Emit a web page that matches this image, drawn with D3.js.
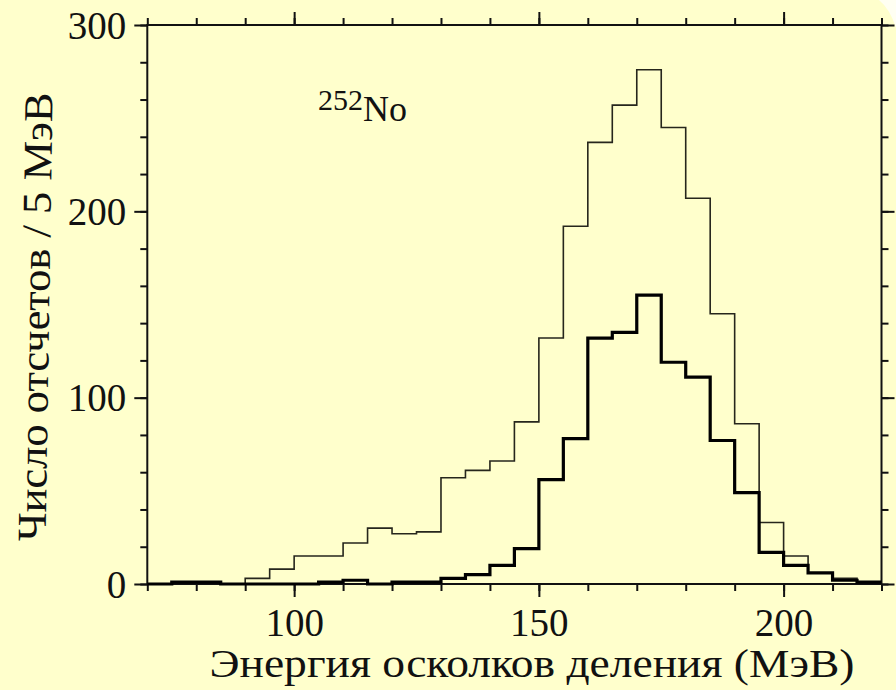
<!DOCTYPE html>
<html>
<head>
<meta charset="utf-8">
<script src="https://cdn.jsdelivr.net/npm/d3@7/dist/d3.min.js"></script>
<style>
  html, body { margin: 0; padding: 0; background: #ffffcc; }
  svg { display: block; }
  text { font-family: "Liberation Serif", "Times New Roman", serif; fill: #111; }
</style>
</head>
<body>
<svg id="chart" width="896" height="690"></svg>
<script>
// Lower edges of the 5 MeV energy bins (MeV)
const binEdges = [70, 75, 80, 85, 90, 95, 100, 105, 110, 115, 120, 125, 130, 135, 140,
                  145, 150, 155, 160, 165, 170, 175, 180, 185, 190, 195, 200, 205, 210, 215];
const binWidth = 5;

// All fission events (thin line)
const countsAll = [0, 1, 1, 0, 3, 8, 15, 15, 22, 30, 27, 28, 57, 61, 66,
                   87, 132, 192, 237, 257, 276, 245, 207, 145, 86, 33, 15, 6, 3, 1];

// Selected events (thick line)
const countsSelected = [0, 1, 1, 0, 0, 0, 0, 1, 2, 0, 1, 1, 3, 5, 10,
                        19, 56, 78, 132, 135, 155, 119, 111, 77, 49, 17, 10, 6, 2, 1];

const xMajorTicks = [100, 150, 200];
const xMinorTicks = [70, 80, 90, 100, 110, 120, 130, 140, 150, 160, 170, 180, 190, 200, 210, 220];
const yMajorTicks = [0, 100, 200, 300];
const yMinorTicks = [0, 20, 40, 60, 80, 100, 120, 140, 160, 180, 200, 220, 240, 260, 280, 300];

const xTitle = "Энергия осколков деления (МэВ)";
const yTitle = "Число отсчетов / 5 МэВ";
const isotopeMass = "252";
const isotopeSymbol = "No";

const W = 896, H = 690;
const plot = { left: 147.3, right: 881.5, top: 25, bottom: 584 };

const svg = d3.select("#chart");

// page background with the paler rounded corner at upper right
svg.append("rect").attr("width", W).attr("height", H).attr("fill", "#ffffcc");
svg.append("path").attr("d", `M879,0 Q890,9 896,28 L896,0 Z`).attr("fill", "#fffff2");

const x = d3.scaleLinear().domain([70, 220]).range([plot.left, plot.right]);
const y = d3.scaleLinear().domain([0, 300]).range([plot.bottom, plot.top]);

const MAJOR = 13, MINOR = 7;

function tickAxis(g, axisFn, scale, minor, major, showLabels) {
  // minor ticks
  g.append("g").call(axisFn(scale).tickValues(minor).tickSize(MINOR).tickFormat(""));
  // major ticks (+ labels)
  const a = g.append("g").call(axisFn(scale).tickValues(major).tickSize(MAJOR)
      .tickFormat(showLabels ? d3.format("d") : ""));
  g.selectAll("path.domain").remove();
  g.selectAll(".tick line").attr("stroke", "#111").attr("stroke-width", 2);
  return a;
}

// bottom axis
const gBottom = svg.append("g").attr("transform", `translate(0,${plot.bottom})`);
const bl = tickAxis(gBottom, d3.axisBottom, x, xMinorTicks, xMajorTicks, true);
bl.selectAll("text").attr("font-size", 39).attr("dy", 0).attr("y", 52)
  .attr("font-family", "Liberation Serif").attr("fill", "#111");

// top axis
const gTop = svg.append("g").attr("transform", `translate(0,${plot.top})`);
tickAxis(gTop, d3.axisTop, x, xMinorTicks, xMajorTicks, false);

// left axis
const gLeft = svg.append("g").attr("transform", `translate(${plot.left},0)`);
const ll = tickAxis(gLeft, d3.axisLeft, y, yMinorTicks, yMajorTicks, true);
ll.selectAll("text").attr("font-size", 39).attr("x", -21).attr("dy", "0.34em")
  .attr("font-family", "Liberation Serif").attr("fill", "#111");

// right axis
const gRight = svg.append("g").attr("transform", `translate(${plot.right},0)`);
tickAxis(gRight, d3.axisRight, y, yMinorTicks, yMajorTicks, false);

// frame
svg.append("rect")
  .attr("x", plot.left).attr("y", plot.top)
  .attr("width", plot.right - plot.left).attr("height", plot.bottom - plot.top)
  .attr("fill", "none").attr("stroke", "#111").attr("stroke-width", 2);

// step histograms
function stepPoints(counts) {
  const pts = binEdges.map((e, i) => [e, counts[i]]);
  pts.push([binEdges[binEdges.length - 1] + binWidth, counts[counts.length - 1]]);
  return pts;
}
const stepLine = d3.line()
  .x(d => x(d[0])).y(d => y(d[1]))
  .curve(d3.curveStepAfter);

svg.append("path")
  .datum(stepPoints(countsAll))
  .attr("d", stepLine)
  .attr("fill", "none").attr("stroke", "#26261c").attr("stroke-width", 1.6);

svg.append("path")
  .datum(stepPoints(countsSelected))
  .attr("d", stepLine)
  .attr("fill", "none").attr("stroke", "#000").attr("stroke-width", 3.2)
  .attr("stroke-linejoin", "miter");

// axis titles (wide serif setting)
svg.append("text")
  .attr("x", 532).attr("y", 677)
  .attr("text-anchor", "middle").attr("font-size", 41)
  .attr("textLength", 645).attr("lengthAdjust", "spacingAndGlyphs")
  .text(xTitle);

svg.append("text")
  .attr("transform", "translate(49,317) rotate(-89.1)")
  .attr("text-anchor", "middle").attr("font-size", 41)
  .attr("textLength", 449).attr("lengthAdjust", "spacingAndGlyphs")
  .text(yTitle);

// isotope label
const iso = svg.append("text").attr("x", 318).attr("y", 121);
iso.append("tspan").attr("font-size", 30).attr("dy", -11).text(isotopeMass);
iso.append("tspan").attr("font-size", 36).attr("dy", 11).text(isotopeSymbol);
</script>
</body>
</html>
